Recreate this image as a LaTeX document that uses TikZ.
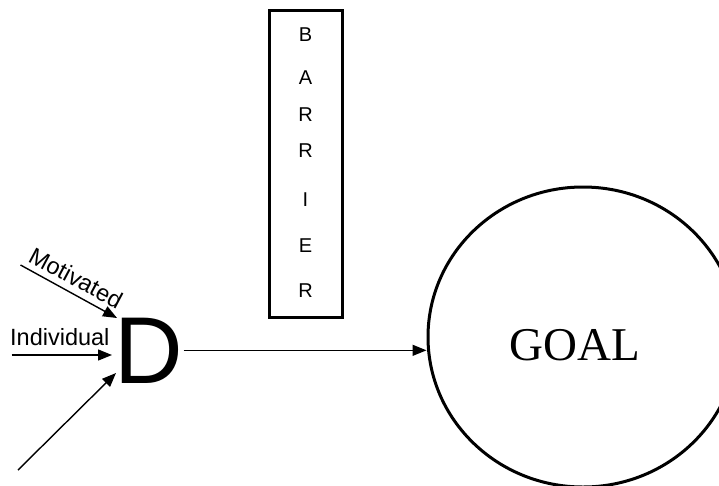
\documentclass[tikz,border=0pt]{standalone}
\usepackage{fontspec}
\setmainfont{Liberation Serif}
\newfontfamily\arial{Liberation Sans}
\usetikzlibrary{arrows.meta,shapes.geometric}
\begin{document}
\begin{tikzpicture}[x=1pt,y=-1pt,
  conn/.style={line width=1.4pt,-{Triangle[length=14pt,width=11pt]}},
  frame/.style={draw,line width=3pt},
  letter/.style={font=\arial\fontsize{20}{20}\selectfont,inner sep=0pt},
  lbl/.style={font=\arial\fontsize{23.5}{23.5}\selectfont,inner sep=0pt}]
\useasboundingbox (0,0) rectangle (719,485);
% barrier
\node[frame, minimum width=73pt, minimum height=307pt, inner sep=0pt] (barrier) at (305.5,163.5) {};
\foreach \ch/\yy/\nm in {B/35/b1, A/78/b2, R/115/b3, R/151/b4, I/200/b5, E/246/b6, R/291/b7}
  \node[letter] (\nm) at (305.5,\yy) {\ch};
% D
\node[font=\arial\fontsize{95}{95}\selectfont, inner sep=0pt, anchor=base west] (D) at (114.5,383) {D};
% goal
\node[frame, ellipse, minimum width=310pt, minimum height=300pt, inner sep=0pt] (goal) at (583,337) {};
\node[font=\fontsize{47}{47}\selectfont, anchor=base, inner sep=0pt] (goaltext) at (574.5,360) {GOAL};
% labels
\node[lbl, anchor=base west] (ind) at (10,345) {Individual};
\node[lbl, rotate=-28] (mot) at (76,278) {Motivated};
% connectors
\coordinate (motS) at (20.5,265); \coordinate (motE) at (117,318);
\coordinate (indS) at (11.5,355); \coordinate (indE) at (112,355);
\coordinate (lowS) at (18,470);   \coordinate (lowE) at (116,373);
\draw[conn] (motS) -- (motE);
\draw[conn] (indS) -- (indE);
\draw[conn] (lowS) -- (lowE);
\draw[conn] (D.east) -- (D.east -| goal.west);
\end{tikzpicture}
\end{document}
